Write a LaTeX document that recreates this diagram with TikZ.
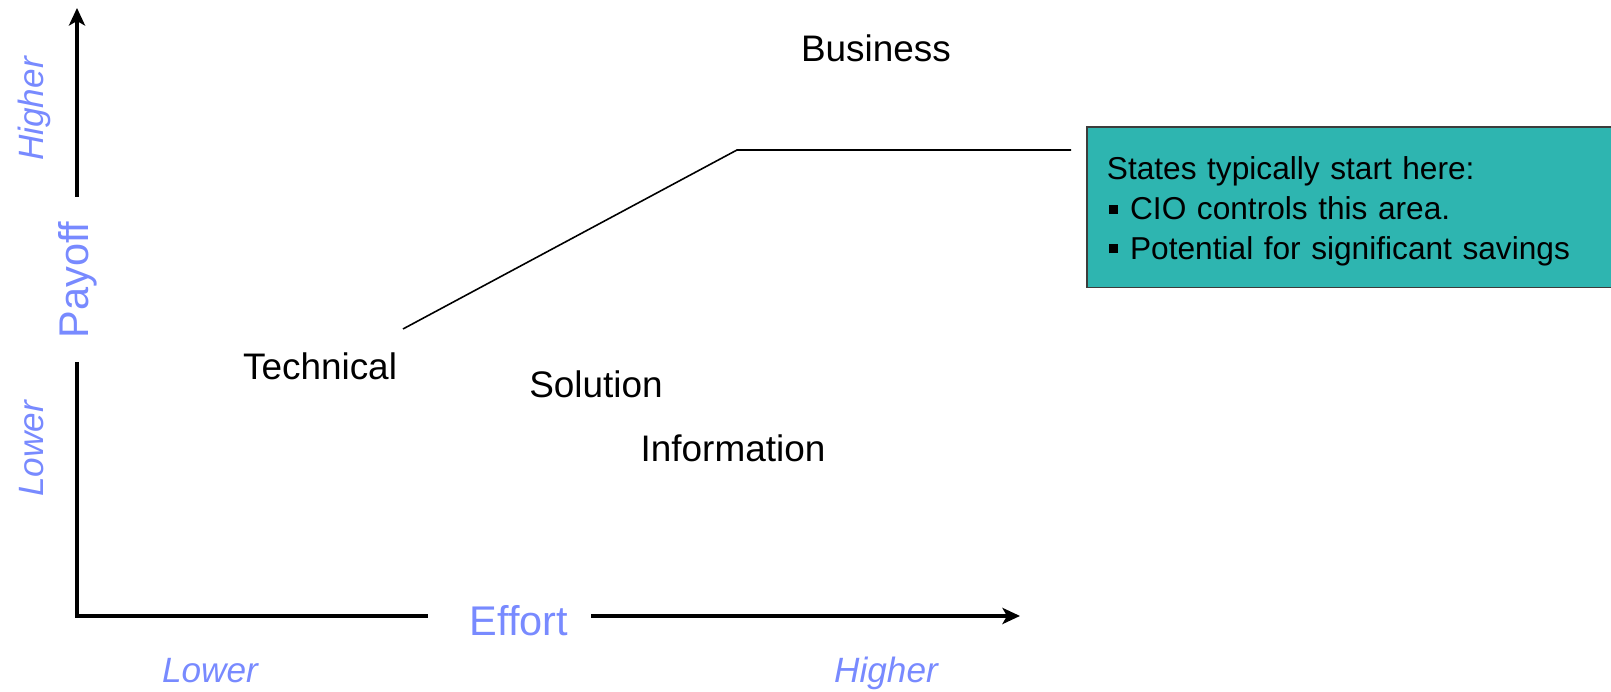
\documentclass[tikz,border=0pt]{standalone}
\usepackage{fontspec}
\setmainfont{Liberation Sans}
\usetikzlibrary{arrows.meta,positioning}
\definecolor{axisblue}{RGB}{120,138,255}
\definecolor{calloutteal}{RGB}{46,181,176}
\definecolor{boxgrey}{RGB}{60,60,60}
\newcommand{\sqbul}{\hspace*{0.6pt}\rule[1.7pt]{2.6pt}{2.6pt}\hspace{3.4pt}}

\begin{document}
\begin{tikzpicture}[x=0.01cm, y=0.01cm,
    axis/.style={line width=1.2pt, black, line join=miter},
    axtip/.style={-{Stealth[length=5pt, width=4.6pt, inset=1.3pt]}},
    axtitle/.style={font=\fontsize{11.8}{14}\selectfont, text=axisblue, inner sep=0pt, anchor=base},
    axend/.style={font=\fontsize{10}{12}\selectfont\itshape, text=axisblue, inner sep=0pt, anchor=base},
    area/.style={font=\fontsize{10.5}{12.6}\selectfont, inner sep=0pt, anchor=base},
    callout/.style={draw=boxgrey, line width=0.5pt, fill=calloutteal, anchor=north west,
        text width=5.2cm, inner xsep=5.7pt, inner ysep=6.1pt, align=left,
        font=\fontsize{9}{11.3}\selectfont},
    lead/.style={line width=0.45pt, black}
]
\useasboundingbox (0,0) rectangle (1611,692);

% Axes with their titles
\coordinate (origin) at (77,76);
\coordinate (ytip) at (77,684);
\coordinate (xtip) at (1020,76);
\node[axtitle, rotate=90] (payoff) at (88,412) {Payoff};
\node[axtitle] (effort) at (519,56) {Effort};
\draw[axis, axtip] (77,495) -- (ytip);
\draw[axis] (77,330) -- (origin) -- (428,76);
\draw[axis, axtip] (591,76) -- (xtip);

% Ends of the scales
\node[axend, rotate=90] (yhigh) at (43,583) {Higher};
\node[axend, rotate=90] (ylow) at (43,243) {Lower};
\node[axend] (xlow) at (210,9) {Lower};
\node[axend] (xhigh) at (886,9) {Higher};

% Areas
\node[area] (biz) at (876,630) {Business};
\node[area] (tech) at (320,312) {Technical};
\node[area] (sol) at (596,294) {Solution};
\node[area] (info) at (733,230) {Information};

% Callout
\node[callout] (note) at (1086,566) {\rule{0pt}{9pt}States typically start here:\\
    \sqbul CIO controls this area.\\
    \sqbul Potential for significant savings};
\coordinate (leadstart) at (403,363);
\coordinate (leadbend) at (737,542);
\coordinate (leadend) at (1071,542);
\draw[lead] (leadstart) -- (leadbend) -- (leadend);
\end{tikzpicture}
\end{document}
